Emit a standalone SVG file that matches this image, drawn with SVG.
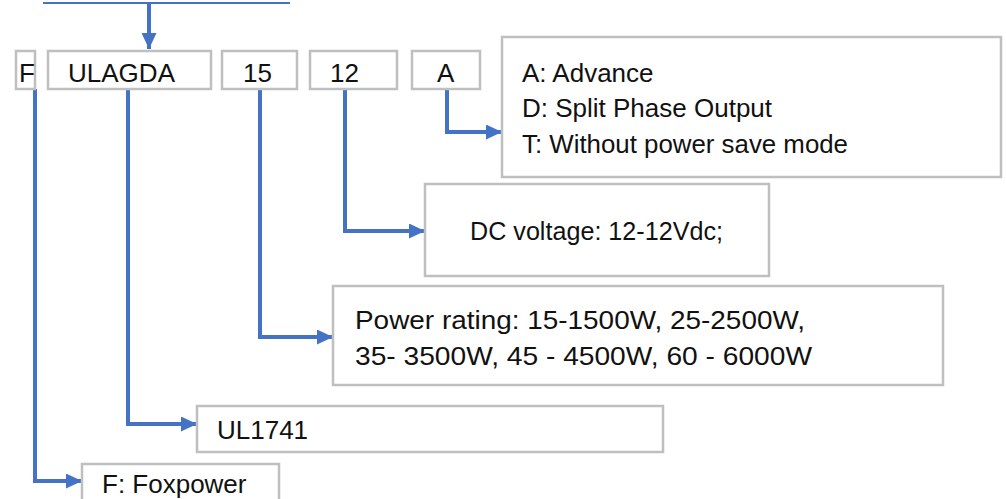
<svg xmlns="http://www.w3.org/2000/svg" width="1006" height="499" viewBox="0 0 1006 499">
<style>
.box{fill:#fff;stroke:#BFBFBF;stroke-width:2.5}
.t{font-family:"Liberation Sans",Arial,sans-serif;font-size:26px;fill:#111}
.c{fill:none;stroke:#4472C4;stroke-width:4}
</style>
<defs>
<marker id="ah" markerUnits="userSpaceOnUse" markerWidth="16" markerHeight="15" refX="16" refY="7.5" orient="auto">
<path d="M0,0 L16,7.5 L0,15 Z" fill="#4472C4"/>
</marker>
</defs>
<rect width="1006" height="499" fill="#fff"/>
<g id="connectors">
<line x1="43" y1="3" x2="290" y2="3" stroke="#4472C4" stroke-width="2"/>
<path class="c" d="M149,3 V49" marker-end="url(#ah)"/>
<path class="c" d="M35,89 V481 H82" marker-end="url(#ah)"/>
<path class="c" d="M128,89 V424 H197" marker-end="url(#ah)"/>
<path class="c" d="M260,89 V337 H333" marker-end="url(#ah)"/>
<path class="c" d="M345,89 V231 H425" marker-end="url(#ah)"/>
<path class="c" d="M447,89 V132 H502" marker-end="url(#ah)"/>
</g>
<g id="node-F">
<rect class="box" x="16" y="51" width="19" height="38"/>
<text class="t" x="19" y="82">F</text>
</g>
<g id="node-ULAGDA">
<rect class="box" x="48" y="51" width="163" height="38"/>
<text class="t" x="68" y="82" textLength="107" lengthAdjust="spacingAndGlyphs">ULAGDA</text>
</g>
<g id="node-15">
<rect class="box" x="222" y="51" width="75" height="38"/>
<text class="t" x="243" y="82">15</text>
</g>
<g id="node-12">
<rect class="box" x="310" y="51" width="87" height="38"/>
<text class="t" x="330" y="82">12</text>
</g>
<g id="node-A">
<rect class="box" x="412" y="51" width="68" height="38"/>
<text class="t" x="437" y="82">A</text>
</g>
<g id="node-A-desc">
<rect class="box" x="502" y="37" width="499" height="140"/>
<text class="t" x="522" y="82">A: Advance</text>
<text class="t" x="522" y="117">D: Split Phase Output</text>
<text class="t" x="522" y="153" textLength="326" lengthAdjust="spacingAndGlyphs">T: Without power save mode</text>
</g>
<g id="node-DC">
<rect class="box" x="425" y="184" width="344" height="92"/>
<text class="t" x="470" y="240" textLength="253" lengthAdjust="spacingAndGlyphs">DC voltage: 12-12Vdc;</text>
</g>
<g id="node-power">
<rect class="box" x="333" y="286" width="610" height="99"/>
<text class="t" x="355" y="329" textLength="450" lengthAdjust="spacingAndGlyphs">Power rating: 15-1500W, 25-2500W,</text>
<text class="t" x="355" y="365" textLength="457" lengthAdjust="spacingAndGlyphs">35- 3500W, 45 - 4500W, 60 - 6000W</text>
</g>
<g id="node-UL1741">
<rect class="box" x="197" y="406" width="466" height="46"/>
<text class="t" x="217" y="439">UL1741</text>
</g>
<g id="node-Foxpower">
<rect class="box" x="82" y="464" width="197" height="50"/>
<text class="t" x="102" y="493">F: Foxpower</text>
</g>
</svg>
